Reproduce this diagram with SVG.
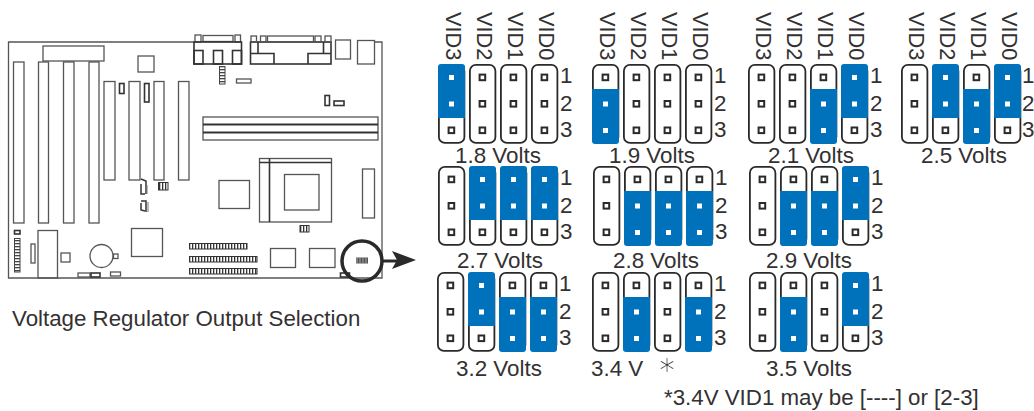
<svg xmlns="http://www.w3.org/2000/svg" width="1034" height="411" viewBox="0 0 1034 411">
<style>
text{font-family:"Liberation Sans",Arial,sans-serif;fill:#333132}
.l{font-size:22.400px}
.v{font-size:21.800px}
.b{fill:none;stroke:#555;stroke-width:1.3}
.k{fill:none;stroke:#333;stroke-width:1.6}
.o{fill:none;stroke:#2b2a2b;stroke-width:1.8}
.bl{fill:#0072bc}
.pd{fill:#fff;stroke:#2b2a2b;stroke-width:2}
.pw{fill:#fff}
</style>
<defs>
<pattern id="st" width="3" height="6" patternUnits="userSpaceOnUse"><rect width="3" height="6" fill="#fff"/><rect width="1.3" height="6" fill="#333"/></pattern>
<pattern id="sh" width="6" height="3" patternUnits="userSpaceOnUse"><rect width="6" height="3" fill="#fff"/><rect width="6" height="1.3" fill="#444"/></pattern>
<g id="open">
<rect class="o" x="0.9" y="0.9" width="25.5" height="78" rx="6"/>
<rect class="pd" x="10.6" y="10.6" width="5.6" height="5.6"/><rect class="pd" x="10.6" y="37" width="5.6" height="5.6"/><rect class="pd" x="10.6" y="63.5" width="5.6" height="5.6"/>
</g>
<g id="j12">
<rect class="o" x="0.9" y="0.9" width="25.5" height="78" rx="6"/>
<path class="bl" d="M0 54V3Q0 0 3 0H24Q27 0 27 3V54Z"/>
<rect class="pw" x="11" y="11" width="5" height="5"/><rect class="pw" x="11" y="37.5" width="5" height="5"/>
<rect class="pd" x="10.6" y="63.5" width="5.6" height="5.6"/>
</g>
<g id="j23">
<rect class="o" x="0.9" y="0.9" width="25.5" height="78" rx="6"/>
<path class="bl" d="M0 25H27V77Q27 80 24 80H3Q0 80 0 77Z"/>
<rect class="pd" x="10.6" y="10.6" width="5.6" height="5.6"/>
<rect class="pw" x="11" y="37.5" width="5" height="5"/><rect class="pw" x="11" y="64" width="5" height="5"/>
</g>
<g id="nums"><text class="l" x="0" y="19">1</text><text class="l" x="0" y="46.500">2</text><text class="l" x="0" y="73">3</text></g>
</defs>

<g id="board">
<path class="b" d="M194 42H8.500V278H382V42H374"/>
<rect class="b" x="43" y="46" width="61" height="15"/>
<rect class="b" x="13.500" y="62" width="10.500" height="161"/>
<rect class="b" x="38.500" y="62" width="10" height="161"/>
<rect class="b" x="63.500" y="62" width="10.500" height="161"/>
<rect class="b" x="89" y="62" width="10" height="161"/>
<rect class="b" x="104" y="81.500" width="11" height="98.500"/>
<rect class="b" x="129" y="81.500" width="11" height="98.500"/>
<rect class="b" x="154" y="81.500" width="10" height="98.500"/>
<rect class="b" x="178.500" y="81.500" width="10.500" height="98.500"/>
<rect class="k" x="119.500" y="83.500" width="4.500" height="10"/>
<rect class="k" x="144.500" y="83.500" width="4.500" height="18.500"/>
<rect class="b" x="138" y="56" width="16" height="16"/>
<rect class="b" x="195" y="35" width="6" height="7"/>
<rect class="b" x="203" y="35.500" width="30" height="6"/>
<rect class="b" x="235" y="35" width="5.500" height="7"/>
<rect class="k" x="194" y="42" width="47.500" height="22"/>
<rect class="k" x="194" y="50.500" width="9" height="13.500"/>
<rect class="k" x="213.500" y="50.500" width="9" height="13.500"/>
<rect class="k" x="232.500" y="50.500" width="9" height="13.500"/>
<rect class="k" x="250.500" y="42" width="80.500" height="22"/>
<rect class="b" x="251" y="36" width="5.500" height="6"/>
<rect class="b" x="260.500" y="36" width="5.500" height="6"/>
<rect class="b" x="267.500" y="36" width="46" height="6"/>
<rect class="b" x="315" y="36" width="6" height="6"/>
<rect class="b" x="325" y="36" width="6" height="6"/>
<path class="k" d="M258 42V53.500M323.500 42V53.500M250.500 53.500H274V64M331 53.500H308V64"/>
<rect class="b" x="335.500" y="40" width="15" height="19"/>
<rect class="b" x="357.500" y="40.500" width="17" height="23.500"/>
<rect x="219.500" y="66.500" width="5.500" height="17.500" fill="url(#sh)" stroke="#444" stroke-width="1"/>
<rect class="b" x="236.500" y="79" width="14.500" height="4"/>
<rect class="k" x="325" y="95.500" width="4.500" height="10"/>
<rect class="k" x="334" y="101" width="10" height="4.500"/>
<rect class="b" x="203" y="117" width="175" height="23"/>
<path d="M203 124.500H378M203 132.500H378" stroke="#333" stroke-width="2" fill="none"/>
<rect class="b" x="259.500" y="158.500" width="72" height="63.500"/>
<path class="k" d="M269.500 158.500V222M259.500 162.500H331.500"/>
<rect class="b" x="284.500" y="174.500" width="34.500" height="35.500"/>
<rect class="b" x="219" y="180.500" width="30.500" height="28"/>
<rect class="b" x="362.500" y="169" width="12" height="49"/>
<rect x="300" y="225.500" width="9" height="6.500" fill="url(#st)" stroke="#333" stroke-width="1"/>
<rect x="158.500" y="182.500" width="9.500" height="7.500" fill="url(#st)" stroke="#333" stroke-width="1"/>
<path d="M141 179L146 181V194M141 184V194H145M141 201H146V212M141 203V210L145 211" fill="none" stroke="#333" stroke-width="1.500"/>
<path d="M147 185V194M148 202V212" fill="none" stroke="#777" stroke-width="1"/>
<rect class="b" x="131.500" y="228.500" width="31" height="28"/>
<rect class="b" x="270.500" y="248.500" width="25" height="19"/>
<rect class="b" x="309.500" y="248.500" width="25.500" height="19"/>
<rect x="189.500" y="243.500" width="57.500" height="5.500" fill="url(#st)" stroke="#333" stroke-width="1"/>
<rect x="189.500" y="256.500" width="67.500" height="5.500" fill="url(#st)" stroke="#333" stroke-width="1"/>
<rect x="189.500" y="268.500" width="67.500" height="5.500" fill="url(#st)" stroke="#333" stroke-width="1"/>
<rect class="k" x="14.500" y="230.500" width="5.500" height="3.500"/>
<rect x="14.500" y="238.500" width="5.500" height="33.500" fill="url(#sh)" stroke="#444" stroke-width="1"/>
<rect class="b" x="31" y="244" width="4" height="19"/>
<rect class="b" x="38" y="230.500" width="19.500" height="47.500"/>
<rect class="b" x="61" y="253" width="9" height="9"/>
<circle class="b" cx="101.500" cy="256" r="11.500"/>
<rect class="b" x="113.500" y="254" width="4.500" height="4.500"/>
<rect class="b" x="78" y="273" width="12" height="4"/>
<rect class="k" x="91" y="273" width="9" height="4"/>
<rect class="b" x="110.500" y="272" width="10" height="4"/>
<rect class="k" x="340.500" y="273" width="9" height="4"/>
<circle cx="362" cy="261" r="20" fill="none" stroke="#2b2a2b" stroke-width="3.500"/>
<rect x="356" y="257.500" width="12" height="6" fill="#555"/>
<path d="M357 257.500V263.500M360 257.500V263.500M363 257.500V263.500M366 257.500V263.500" stroke="#ccc" stroke-width=".7"/>
</g>

<g id="connectors">
<path d="M382 261H398" stroke="#2b2a2b" stroke-width="3" fill="none"/>
<path d="M392 251L416 260L392 269L397 260Z" fill="#2b2a2b"/>
</g>

<text id="caption" x="12" y="326" font-size="22.300">Voltage Regulator Output Selection</text>

<g id="vid-labels" class="v">
<text transform="translate(445.500,12) rotate(90)">VID3</text><text transform="translate(476.500,12) rotate(90)">VID2</text><text transform="translate(507.500,12) rotate(90)">VID1</text><text transform="translate(538.500,12) rotate(90)">VID0</text>
<text transform="translate(599.500,12) rotate(90)">VID3</text><text transform="translate(630.500,12) rotate(90)">VID2</text><text transform="translate(661.500,12) rotate(90)">VID1</text><text transform="translate(692.500,12) rotate(90)">VID0</text>
<text transform="translate(755.500,12) rotate(90)">VID3</text><text transform="translate(786.500,12) rotate(90)">VID2</text><text transform="translate(817.500,12) rotate(90)">VID1</text><text transform="translate(848.500,12) rotate(90)">VID0</text>
<text transform="translate(908.500,12) rotate(90)">VID3</text><text transform="translate(939.500,12) rotate(90)">VID2</text><text transform="translate(970.500,12) rotate(90)">VID1</text><text transform="translate(1001.500,12) rotate(90)">VID0</text>
</g>

<g id="v18" transform="translate(438,64)"><use href="#j12"/><use href="#open" x="31"/><use href="#open" x="62"/><use href="#open" x="93"/><use href="#nums" x="122"/><text class="l" x="17" y="99">1.8 Volts</text></g>
<g id="v19" transform="translate(592,64)"><use href="#j23"/><use href="#open" x="31"/><use href="#open" x="62"/><use href="#open" x="93"/><use href="#nums" x="122"/><text class="l" x="17" y="99">1.9 Volts</text></g>
<g id="v21" transform="translate(748,64)"><use href="#open"/><use href="#open" x="31"/><use href="#j23" x="62"/><use href="#j12" x="93"/><use href="#nums" x="122"/><text class="l" x="20" y="99">2.1 Volts</text></g>
<g id="v25" transform="translate(901,64)"><use href="#open"/><use href="#j12" x="31"/><use href="#j23" x="62"/><use href="#j12" x="93"/><use href="#nums" x="121"/><text class="l" x="20" y="99">2.5 Volts</text></g>

<g id="v27" transform="translate(438,166)"><use href="#open"/><use href="#j12" x="31"/><use href="#j12" x="62"/><use href="#j12" x="93"/><use href="#nums" x="122"/><text class="l" x="19" y="102">2.7 Volts</text></g>
<g id="v28" transform="translate(593,166)"><use href="#open"/><use href="#j23" x="31"/><use href="#j23" x="62"/><use href="#j23" x="93"/><use href="#nums" x="122"/><text class="l" x="20" y="102">2.8 Volts</text></g>
<g id="v29" transform="translate(749,166)"><use href="#open"/><use href="#j23" x="31"/><use href="#j23" x="62"/><use href="#j12" x="93"/><use href="#nums" x="122"/><text class="l" x="17" y="102">2.9 Volts</text></g>

<g id="v32" transform="translate(437,272)"><use href="#open"/><use href="#j12" x="31"/><use href="#j23" x="62"/><use href="#j23" x="93"/><use href="#nums" x="122"/><text class="l" x="19" y="104">3.2 Volts</text></g>
<g id="v34" transform="translate(592,272)"><use href="#open"/><use href="#j23" x="31"/><use href="#open" x="62"/><use href="#j23" x="93"/><use href="#nums" x="122"/><text class="l" x="-1" y="104">3.4 V</text><text x="67.500" y="108" font-size="30" font-weight="200" style="font-family:'DejaVu Sans',sans-serif;fill:#333">*</text></g>
<g id="v35" transform="translate(749,272)"><use href="#open"/><use href="#j23" x="31"/><use href="#open" x="62"/><use href="#j12" x="93"/><use href="#nums" x="122"/><text class="l" x="17" y="104">3.5 Volts</text></g>

<text id="footnote" x="664" y="405" font-size="22.300">*3.4V VID1 may be [----] or [2-3]</text>
</svg>
